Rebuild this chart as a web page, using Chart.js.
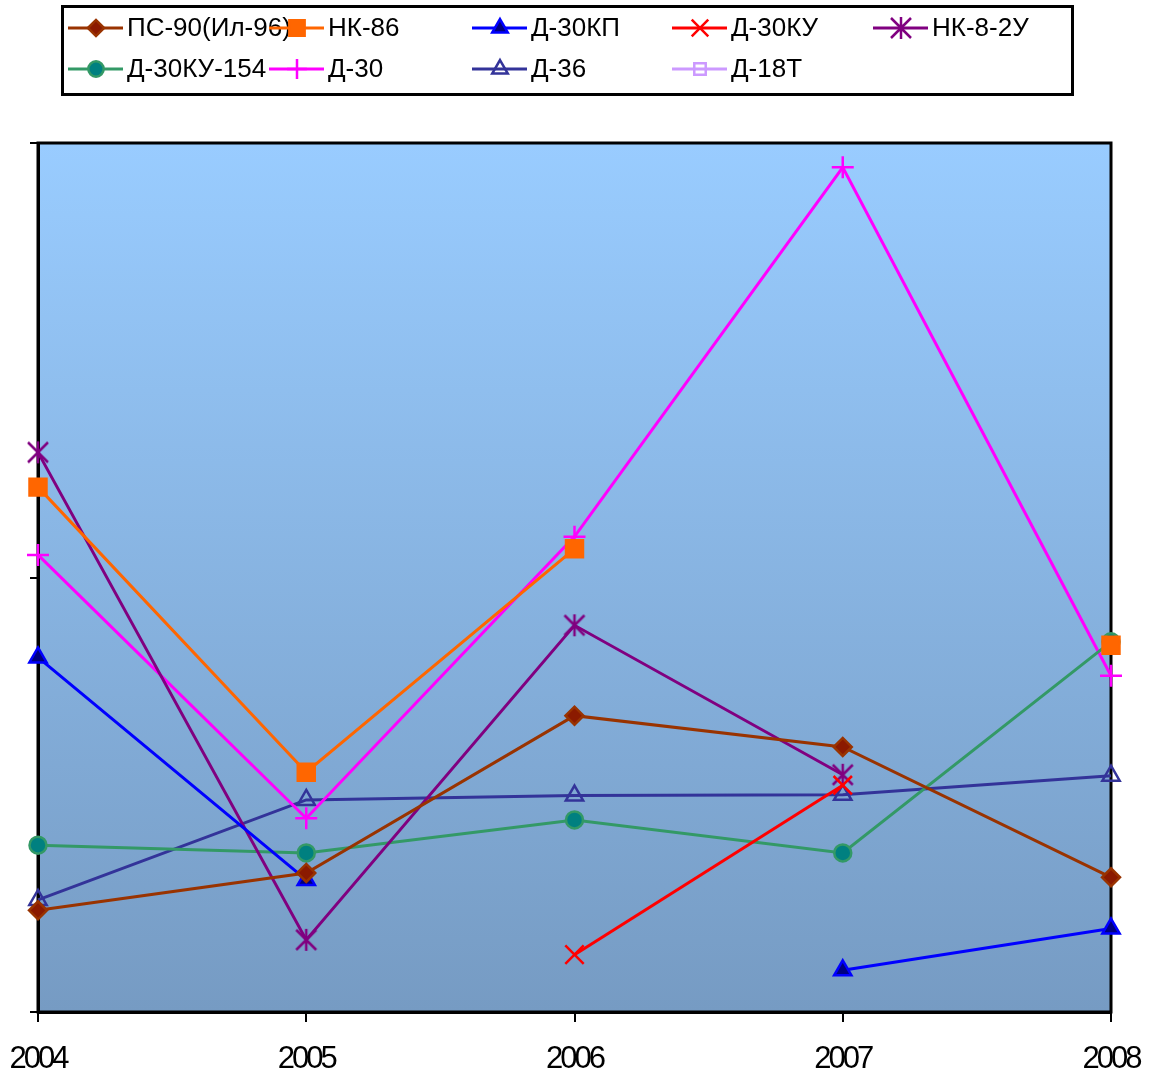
<!DOCTYPE html>
<html>
<head>
<meta charset="utf-8">
<script src="https://cdn.jsdelivr.net/npm/chart.js@4"></script>
<style>
  body { margin: 0; background: #fff; }
  #wrap { width: 1149px; height: 1077px; position: relative; }
</style>
</head>
<body>
<div id="wrap"><canvas id="chart"></canvas></div>
<script>
const years = ["2004", "2005", "2006", "2007", "2008"];

// values (no axis labels in the original, arbitrary units 0..1000)
const ps90 = [117, 160, 341, 305, 155];
const nk86 = [604, 276, 533, null, 422];
const d30kp = [408, 152, null, 48, 96];
const d30ku = [null, null, 66, 261, null];
const nk82u = [644, 83, 445, 273, null];
const d30ku154 = [192, 183, 221, 183, 426];
const d30 = [526, 223, 547, 972, 387];
const d36 = [129, 244, 249, 250, 272];
const d18t = [null, null, null, null, null];

// six-armed asterisk like the excel marker
const makeAsterisk = (size, color) => {
  const c = document.createElement("canvas");
  c.width = size;
  c.height = size;
  const x = c.getContext("2d");
  const m = size / 2;
  const d = size / 2 - 2;
  x.strokeStyle = color;
  x.lineWidth = 2.5;
  x.beginPath();
  x.moveTo(m, 1); x.lineTo(m, size - 1);
  x.moveTo(m - d, m - d); x.lineTo(m + d, m + d);
  x.moveTo(m + d, m - d); x.lineTo(m - d, m + d);
  x.stroke();
  return c;
};
const asterisk = makeAsterisk(24, "#800080");

const series = [
  { label: "ПС-90(Ил-96)", data: ps90, line: "#993300", fill: "#8b1a00", style: "rectRot", r: 9 },
  { label: "НК-86", data: nk86, line: "#ff6600", fill: "#ff6600", style: "rect", r: 12 },
  { label: "Д-30КП", data: d30kp, line: "#0000ff", fill: "#000080", style: "triangle", r: 10 },
  { label: "Д-30КУ", data: d30ku, line: "#ff0000", fill: "#ff0000", style: "crossRot", r: 13 },
  { label: "НК-8-2У", data: nk82u, line: "#800080", fill: "#800080", style: asterisk, r: 12 },
  { label: "Д-30КУ-154", data: d30ku154, line: "#339966", fill: "#008080", style: "circle", r: 8.5 },
  { label: "Д-30", data: d30, line: "#ff00ff", fill: "#ff00ff", style: "cross", r: 11 },
  { label: "Д-36", data: d36, line: "#333399", fill: "rgba(0,0,0,0)", style: "triangle", r: 10 },
  { label: "Д-18Т", data: d18t, line: "#cc99ff", fill: "rgba(0,0,0,0)", style: "rect", r: 9 }
];

const datasets = series.map((s) => ({
  label: s.label,
  data: s.data,
  borderColor: s.line,
  backgroundColor: s.fill,
  borderWidth: 3,
  pointStyle: s.style,
  pointRadius: s.r,
  pointBackgroundColor: s.fill,
  pointBorderColor: s.line,
  pointBorderWidth: 2.5,
  tension: 0,
  spanGaps: false,
  clip: false
}));

// gradient background + frame around the plot
const plotBg = {
  id: "plotBg",
  beforeDraw(chart) {
    const { ctx, chartArea: a } = chart;
    const g = ctx.createLinearGradient(0, a.top, 0, a.bottom);
    g.addColorStop(0, "#99ccff");
    g.addColorStop(1, "rgb(118,155,195)");
    ctx.save();
    ctx.fillStyle = g;
    ctx.fillRect(a.left, a.top, a.right - a.left, a.bottom - a.top);
    ctx.restore();
    ctx.letterSpacing = "-3px";
  },
  beforeDatasetsDraw(chart) {
    const { ctx, chartArea: a } = chart;
    ctx.save();
    ctx.letterSpacing = "0px";
    ctx.strokeStyle = "#000";
    ctx.lineWidth = 3;
    ctx.strokeRect(a.left, a.top, a.right - a.left, a.bottom - a.top);
    ctx.restore();
  }
};

// legend in a framed box, 5 fixed columns
const boxLegend = {
  id: "boxLegend",
  afterDraw(chart) {
    const ctx = chart.ctx;
    ctx.save();
    ctx.letterSpacing = "0px";
    ctx.strokeStyle = "#000";
    ctx.lineWidth = 3;
    ctx.strokeRect(62.5, 6.5, 1010, 88);
    const cols = [68, 269, 472, 672, 873];
    const rows = [28, 69];
    ctx.font = "26px Arial, 'Liberation Sans', sans-serif";
    ctx.textBaseline = "middle";
    series.forEach((s, i) => {
      const x = cols[i % 5];
      const y = rows[Math.floor(i / 5)];
      ctx.strokeStyle = s.line;
      ctx.lineWidth = 3;
      ctx.beginPath();
      ctx.moveTo(x, y);
      ctx.lineTo(x + 55, y);
      ctx.stroke();
      ctx.fillStyle = s.fill;
      ctx.lineWidth = 2.5;
      Chart.helpers.drawPoint(ctx, {
        pointStyle: s.style,
        radius: s.r * 0.9,
        rotation: 0,
        borderWidth: 2.5
      }, x + 28, y);
      ctx.fillStyle = "#000";
      ctx.fillText(s.label, x + 59, y + 1);
    });
    ctx.restore();
  }
};

new Chart(document.getElementById("chart"), {
  type: "line",
  data: { labels: years, datasets: datasets },
  options: {
    responsive: true,
    maintainAspectRatio: false,
    animation: false,
    layout: { padding: { top: 143, left: 30, right: 38, bottom: 0 } },
    plugins: {
      legend: { display: false },
      tooltip: { enabled: false }
    },
    scales: {
      x: {
        offset: false,
        afterFit: (scale) => {
          scale.height = 65;
          scale.paddingLeft = 0;
          scale.paddingRight = 0;
        },
        grid: { display: true, drawOnChartArea: false, drawTicks: true, tickLength: 10, color: "#000", lineWidth: 2 },
        border: { display: true, color: "#000", width: 3 },
        ticks: {
          color: "#000",
          padding: 19,
          maxRotation: 0,
          font: { family: "Arial, 'Liberation Sans', sans-serif", size: 31 }
        }
      },
      y: {
        min: 0,
        max: 1000,
        afterFit: (scale) => {
          scale.width = 8;
          scale.paddingTop = 0;
          scale.paddingBottom = 0;
        },
        grid: { display: true, drawOnChartArea: false, drawTicks: true, tickLength: 8, color: "#000", lineWidth: 2 },
        border: { display: true, color: "#000", width: 3 },
        ticks: { display: false, stepSize: 500 }
      }
    }
  },
  plugins: [plotBg, boxLegend]
});
</script>
</body>
</html>
